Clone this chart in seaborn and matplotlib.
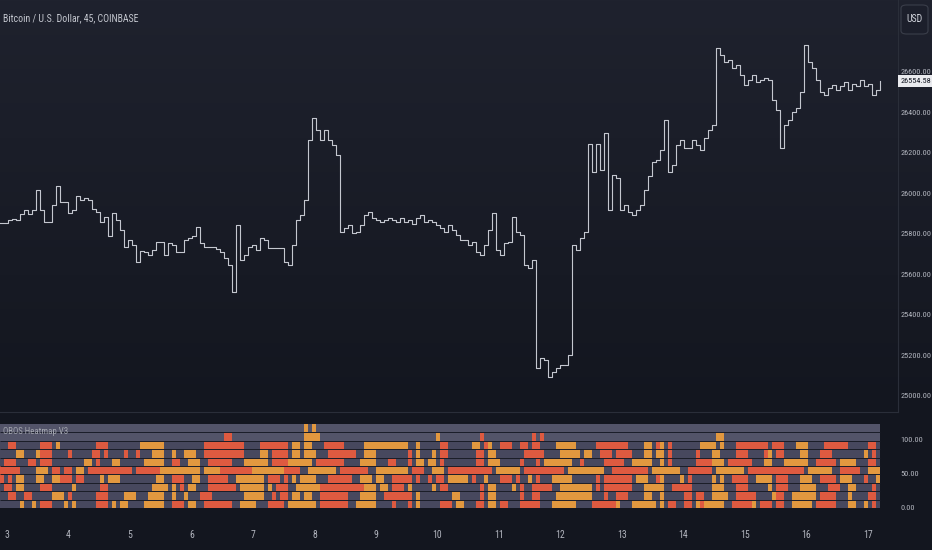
import numpy as np
import pandas as pd
import matplotlib
matplotlib.use("Agg")
import matplotlib.pyplot as plt
import matplotlib.transforms as mtransforms
from matplotlib.colors import ListedColormap
from matplotlib.patches import FancyBboxPatch
from matplotlib import font_manager as fm
from matplotlib.textpath import TextPath
import seaborn as sns

# ---------------- data ----------------
TITLE = "Bitcoin / U.S. Dollar, 45, COINBASE"
INDICATOR = "OBOS Heatmap V3"
CURRENCY = "USD"
LAST_PRICE = 26554.58
DAY_LABELS = [str(d) for d in range(3, 18)]
PRICE_TICKS = [25000, 25200, 25400, 25600, 25800, 26000, 26200, 26400, 26600]
OSC_TICKS = [0, 50, 100]

PRICE = [
    25854, 25854, 25869, 25874, 25869, 25899, 25918, 25899, 25918, 26017,
    25918, 25859, 25859, 25943, 26037, 25958, 25958, 25904, 25918, 25988,
    25968, 25978, 25968, 25923, 25909, 25859, 25884, 25790, 25904, 25869,
    25820, 25736, 25770, 25746, 25662, 25716, 25711, 25696, 25721, 25760,
    25760, 25696, 25756, 25746, 25711, 25711, 25770, 25780, 25790, 25835,
    25756, 25736, 25736, 25736, 25726, 25711, 25681, 25647, 25514, 25844,
    25672, 25696, 25736, 25746, 25721, 25780, 25770, 25731, 25731, 25731,
    25731, 25662, 25647, 25746, 25869, 25894, 25968, 26264, 26373, 26314,
    26264, 26314, 26264, 26239, 26190, 25810, 25830, 25844, 25805, 25810,
    25844, 25894, 25909, 25879, 25869, 25859, 25869, 25879, 25869, 25859,
    25879, 25859, 25869, 25849, 25879, 25894, 25859, 25869, 25859, 25844,
    25830, 25810, 25844, 25820, 25795, 25770, 25770, 25746, 25760, 25711,
    25696, 25746, 25820, 25904, 25721, 25696, 25756, 25760, 25884, 25810,
    25795, 25647, 25632, 25672, 25138, 25188, 25178, 25094, 25119, 25138,
    25153, 25153, 25202, 25746, 25721, 25780, 25810, 26244, 26106, 26244,
    26116, 26299, 25918, 26091, 26076, 25918, 25943, 25909, 25894, 25918,
    25943, 26017, 26086, 26155, 26165, 26215, 26363, 26106, 26141, 26239,
    26264, 26225, 26225, 26264, 26239, 26215, 26274, 26314, 26338, 26718,
    26684, 26649, 26659, 26620, 26634, 26585, 26536, 26560, 26585, 26551,
    26560, 26570, 26560, 26462, 26412, 26225, 26338, 26363, 26402, 26422,
    26501, 26733, 26649, 26620, 26560, 26501, 26486, 26521, 26536, 26511,
    26531, 26551, 26511, 26541, 26531, 26560, 26531, 26541, 26486, 26511,
    26554.58,
]

N_COLS = 220
# heatmap states per row: (state, first column, end column); r = overbought, o = oversold
ROW_1 = [("o", 76, 77), ("o", 78, 79)]
ROW_2 = [("r", 56, 58), ("o", 76, 80), ("o", 109, 110), ("r", 120, 121), ("r", 133, 134),
         ("r", 135, 136), ("o", 179, 181)]
ROW_3 = [("r", 2, 4), ("r", 10, 13), ("o", 14, 15), ("r", 24, 27), ("o", 35, 41), ("r", 51, 61),
         ("r", 65, 72), ("o", 73, 75), ("o", 76, 78), ("r", 81, 86), ("o", 91, 102), ("o", 104, 105),
         ("r", 110, 112), ("o", 118, 120), ("r", 121, 122), ("o", 122, 123), ("r", 125, 128),
         ("r", 130, 132), ("r", 133, 135), ("o", 139, 144), ("r", 149, 157), ("o", 161, 163),
         ("r", 164, 165), ("o", 165, 166), ("r", 167, 168), ("o", 175, 179), ("o", 180, 181),
         ("r", 184, 192), ("r", 193, 196), ("o", 199, 202), ("r", 206, 212), ("r", 217, 219)]
ROW_4 = [("o", 4, 6), ("o", 9, 10), ("r", 10, 13), ("r", 17, 18), ("r", 23, 25), ("r", 26, 27),
         ("r", 31, 32), ("r", 34, 35), ("o", 38, 41), ("o", 43, 44), ("o", 46, 49), ("r", 51, 61),
         ("o", 65, 67), ("r", 68, 72), ("o", 73, 75), ("o", 76, 79), ("r", 82, 89), ("o", 91, 94),
         ("r", 102, 103), ("o", 104, 105), ("o", 108, 109), ("r", 110, 112), ("r", 119, 121),
         ("o", 122, 124), ("r", 131, 136), ("o", 140, 145), ("o", 146, 148), ("r", 150, 153),
         ("r", 154, 158), ("o", 161, 163), ("o", 164, 166), ("r", 167, 168), ("r", 174, 175),
         ("o", 178, 180), ("r", 184, 187), ("r", 191, 192), ("o", 192, 193), ("r", 194, 196),
         ("o", 200, 202), ("r", 205, 208), ("o", 216, 217), ("r", 218, 219)]
ROW_5 = [("r", 1, 4), ("r", 7, 9), ("r", 10, 13), ("o", 21, 23), ("r", 24, 25), ("o", 28, 30),
         ("o", 36, 41), ("r", 43, 45), ("o", 47, 50), ("r", 52, 58), ("o", 61, 67), ("r", 68, 72),
         ("o", 72, 78), ("r", 79, 86), ("o", 90, 94), ("r", 97, 99), ("r", 102, 103), ("o", 104, 106),
         ("o", 107, 109), ("r", 110, 111), ("r", 119, 121), ("o", 122, 125), ("r", 130, 131),
         ("r", 134, 135), ("o", 136, 143), ("r", 145, 146), ("r", 151, 156), ("o", 158, 163),
         ("o", 165, 166), ("r", 167, 168), ("r", 174, 178), ("o", 178, 181), ("r", 182, 188),
         ("o", 191, 193), ("o", 196, 202), ("r", 204, 209), ("o", 210, 214), ("r", 217, 219)]
ROW_6 = [("r", 0, 5), ("o", 9, 12), ("r", 13, 15), ("r", 16, 18), ("o", 19, 21), ("r", 22, 33),
         ("r", 34, 40), ("o", 40, 50), ("o", 51, 55), ("r", 55, 63), ("o", 63, 71), ("r", 71, 75),
         ("o", 77, 84), ("r", 85, 92), ("o", 94, 102), ("r", 103, 106), ("o", 108, 111),
         ("r", 112, 123), ("o", 124, 130), ("r", 131, 141), ("o", 142, 151), ("r", 153, 162),
         ("o", 163, 170), ("r", 172, 178), ("o", 179, 186), ("r", 187, 201), ("o", 202, 208),
         ("r", 210, 215), ("o", 217, 220)]
ROW_7 = [("r", 0, 1), ("r", 2, 3), ("o", 4, 6), ("o", 9, 11), ("o", 13, 15), ("r", 15, 18),
         ("r", 19, 21), ("o", 25, 26), ("o", 27, 30), ("o", 39, 41), ("r", 43, 46), ("o", 48, 50),
         ("r", 52, 57), ("o", 59, 66), ("r", 67, 70), ("r", 71, 72), ("o", 73, 74), ("o", 75, 79),
         ("r", 82, 88), ("o", 90, 93), ("o", 94, 96), ("r", 98, 103), ("r", 104, 105),
         ("r", 107, 108), ("r", 109, 111), ("o", 112, 117), ("r", 118, 119), ("o", 121, 122),
         ("r", 125, 128), ("r", 129, 130), ("o", 132, 133), ("r", 134, 135), ("o", 138, 143),
         ("r", 149, 150), ("r", 151, 158), ("o", 159, 162), ("r", 164, 165), ("o", 165, 166),
         ("o", 170, 171), ("r", 172, 173), ("o", 178, 179), ("o", 180, 181), ("r", 183, 187),
         ("o", 189, 193), ("r", 194, 197), ("o", 200, 203), ("r", 205, 209), ("o", 210, 213),
         ("r", 216, 217), ("o", 219, 220)]
ROW_8 = [("r", 1, 3), ("o", 4, 6), ("r", 10, 13), ("o", 18, 19), ("r", 25, 27), ("o", 38, 42),
         ("o", 43, 44), ("r", 45, 46), ("o", 47, 49), ("r", 52, 59), ("o", 60, 66), ("o", 67, 68),
         ("r", 69, 72), ("o", 74, 80), ("r", 80, 91), ("o", 91, 94), ("o", 95, 97), ("r", 98, 101),
         ("o", 102, 103), ("o", 108, 109), ("r", 110, 112), ("r", 120, 121), ("o", 122, 124),
         ("o", 128, 129), ("r", 130, 131), ("r", 133, 138), ("o", 140, 148), ("r", 149, 150),
         ("r", 151, 158), ("o", 161, 166), ("r", 168, 173), ("o", 178, 181), ("r", 184, 187),
         ("o", 192, 193), ("r", 194, 197), ("o", 200, 204), ("r", 207, 210), ("o", 212, 214),
         ("r", 218, 219)]
ROW_9 = [("r", 2, 4), ("r", 6, 8), ("o", 13, 16), ("r", 17, 18), ("r", 24, 27), ("o", 31, 34),
         ("o", 37, 41), ("o", 43, 44), ("o", 46, 47), ("r", 50, 53), ("o", 61, 66), ("r", 68, 69),
         ("r", 70, 72), ("o", 73, 75), ("o", 76, 78), ("r", 80, 87), ("o", 90, 94), ("r", 96, 103),
         ("o", 104, 105), ("o", 113, 115), ("r", 120, 121), ("o", 122, 124), ("r", 130, 131),
         ("r", 133, 135), ("o", 139, 148), ("r", 151, 152), ("r", 154, 157), ("o", 161, 163),
         ("o", 165, 166), ("r", 171, 173), ("r", 174, 176), ("o", 178, 182), ("r", 184, 189),
         ("o", 193, 194), ("r", 194, 196), ("o", 198, 204), ("r", 205, 209), ("o", 212, 213),
         ("r", 217, 219)]
ROW_10 = [("o", 5, 6), ("o", 8, 9), ("r", 10, 13), ("o", 16, 17), ("o", 18, 19), ("r", 24, 27),
          ("o", 28, 29), ("o", 30, 32), ("o", 36, 41), ("r", 43, 46), ("o", 47, 49), ("r", 51, 58),
          ("o", 60, 64), ("r", 67, 71), ("o", 72, 79), ("r", 80, 87), ("o", 89, 94), ("r", 98, 99),
          ("r", 102, 103), ("o", 104, 105), ("r", 110, 113), ("o", 114, 116), ("r", 119, 121),
          ("o", 122, 124), ("r", 125, 127), ("r", 130, 135), ("o", 138, 144), ("r", 148, 154),
          ("o", 154, 155), ("o", 158, 164), ("o", 165, 166), ("r", 167, 169), ("r", 171, 173),
          ("o", 174, 175), ("r", 175, 176), ("o", 176, 181), ("r", 183, 188), ("o", 188, 189),
          ("r", 190, 193), ("r", 194, 196), ("o", 198, 203), ("r", 204, 209), ("o", 212, 214),
          ("o", 216, 217), ("r", 218, 219)]
HEAT_ROWS = [ROW_1, ROW_2, ROW_3, ROW_4, ROW_5, ROW_6, ROW_7, ROW_8, ROW_9, ROW_10]
ROW_BASE = [3, 3, 0, 0, 0, 0, 0, 0, 0, 0]   # neutral shade of each row
STATE_CODE = {"r": 1, "o": 2}

# ---------------- fonts ----------------
def pick_font():
    prefs = ["roboto condensed", "liberation sans narrow", "dejavu sans", "open sans",
             "noto sans", "roboto"]
    narrow = []
    for f in fm.fontManager.ttflist:
        nm = f.name.lower()
        st = str(f.stretch).lower()
        is_narrow = ("condensed" in st or "narrow" in nm or "condensed" in nm
                     or "narrow" in st)
        w_ok = str(f.weight).lower() in ("400", "normal", "regular", "book")
        if is_narrow and w_ok and f.style == "normal" and "semi" not in st:
            narrow.append(f)
    for p in prefs:
        for f in narrow:
            if f.name.lower().startswith(p):
                return fm.FontProperties(fname=f.fname), True
    return fm.FontProperties(family=["Roboto", "DejaVu Sans"]), False

FP, IS_NARROW = pick_font()

def width_px(s, size):
    return TextPath((0, 0), s, prop=FP, size=size).get_extents().width * 100 / 72

def fit(s, target_px, cap):
    return min(cap, target_px / width_px(s, 1.0))

AX_SIZE = fit("26400.00", 30, 7.5)
DAY_SIZE = min(7.0, AX_SIZE * 1.25)
TITLE_SIZE = fit(TITLE, 135 if IS_NARROW else 150, 7.5)
IND_SIZE = fit(INDICATOR, 64 if IS_NARROW else 70, 7.5)

def fprop(size):
    p = FP.copy()
    p.set_size(size)
    return p

# ---------------- figure ----------------
W, H = 932, 550
TXT = "#b2b5be"
fig = plt.figure(figsize=(W / 100, H / 100), dpi=100)

bg = fig.add_axes([0, 0, 1, 1], zorder=-5)
top = np.array([31, 34, 46]) / 255
mid = np.array([19, 22, 31]) / 255
t = np.clip(np.linspace(0, 1, H) / (412 / H), 0, 1)[:, None]
grad = top[None, :] * (1 - t) + mid[None, :] * t
bg.imshow(grad[:, None, :].repeat(4, axis=1), aspect="auto", extent=[0, 1, 0, 1])
bg.axis("off")

x_right = 898 / W
ax = fig.add_axes([0, (H - 412) / H, x_right, 412 / H])
axh = fig.add_axes([0, (H - 519) / H, x_right, 105 / H])
sep = "#2a2e39"
for a in (ax, axh):
    a.set_facecolor("none")
    for s in a.spines.values():
        s.set_visible(False)
    a.spines["right"].set_visible(True)
    a.spines["right"].set_color(sep)
    a.spines["bottom"].set_visible(True)
    a.spines["bottom"].set_color(sep)

# ---- price line ----
df = pd.DataFrame({"bar": np.arange(len(PRICE)), "price": PRICE})
sns.lineplot(data=df, x="bar", y="price", ax=ax, color="#c4c7cf", linewidth=0.8,
             drawstyle="steps-post", legend=False)
XMAX = 898 / 4
ax.set_xlim(0, XMAX)
ax.set_ylim(24921, 26955)
ax.set_xlabel("")
ax.set_ylabel("")
ax.set_xticks([])
ax.yaxis.tick_right()
ax.set_yticks(PRICE_TICKS)
ax.set_yticklabels([f"{v:.2f}" for v in PRICE_TICKS], fontproperties=fprop(AX_SIZE))
ax.tick_params(axis="y", length=0, pad=2, labelcolor=TXT)

# ---- heatmap ----
mat = np.zeros((len(HEAT_ROWS), N_COLS))
for i, (row, base) in enumerate(zip(HEAT_ROWS, ROW_BASE)):
    mat[i, :] = base
    for state, s, e in row:
        mat[i, s:e] = STATE_CODE[state]
cmap = ListedColormap(["#47485e", "#de5a40", "#e2983f", "#535469"])
sns.heatmap(mat, ax=axh, cmap=cmap, vmin=-0.5, vmax=3.5, cbar=False,
            xticklabels=False, yticklabels=False, linewidths=0)
axh.hlines(np.arange(1, len(HEAT_ROWS)), 0, N_COLS, color="#1a1d28", linewidth=0.7)
row_h = 8.4
axh.set_xlim(0, XMAX)
axh.set_ylim(len(HEAT_ROWS) + 11 / row_h, -10 / row_h)
axh.yaxis.tick_right()
osc_pos = [len(HEAT_ROWS) - v * 0.0821 for v in OSC_TICKS]
axh.set_yticks(osc_pos)
axh.set_yticklabels([f"{v:.2f}" for v in OSC_TICKS], fontproperties=fprop(AX_SIZE))
axh.tick_params(axis="y", length=0, pad=2, labelcolor=TXT, right=True,
                labelright=True, labelleft=False)
day_pos = [(7 + i * 61.5) / 4 for i in range(len(DAY_LABELS))]
axh.set_xticks(day_pos)
axh.set_xticklabels(DAY_LABELS, rotation=0, fontproperties=fprop(DAY_SIZE))
axh.tick_params(axis="x", length=0, pad=8, labelcolor=TXT, bottom=True, labelbottom=True)
axh.set_xlabel("")
axh.set_ylabel("")

# ---- texts ----
fig.text(3 / W, 1 - 18 / H, TITLE, ha="left", va="center", color="#c3c6ce",
         fontproperties=fprop(TITLE_SIZE))
fig.text(3 / W, 1 - 432 / H, INDICATOR, ha="left", va="center", color="#a3a6af",
         fontproperties=fprop(IND_SIZE))

tr = mtransforms.blended_transform_factory(ax.transAxes, ax.transData)
ax.text(1.003, LAST_PRICE, f"{LAST_PRICE:.2f}", transform=tr, ha="left", va="center",
        color="#131722", clip_on=False, zorder=10, fontproperties=fprop(AX_SIZE),
        bbox=dict(boxstyle="square,pad=0.35", fc="#e9eaee", ec="none"))

box = FancyBboxPatch((901 / W, 1 - 34 / H), 27 / W, 29 / H,
                     boxstyle="round,pad=0,rounding_size=0.006",
                     transform=fig.transFigure, fc="#1c1f2b", ec="#3a3e4a", lw=0.8)
fig.add_artist(box)
fig.text(914.5 / W, 1 - 19.5 / H, CURRENCY, ha="center", va="center", color="#d1d4dc",
         fontproperties=fprop(DAY_SIZE))

fig.savefig("out.png", dpi=100)
